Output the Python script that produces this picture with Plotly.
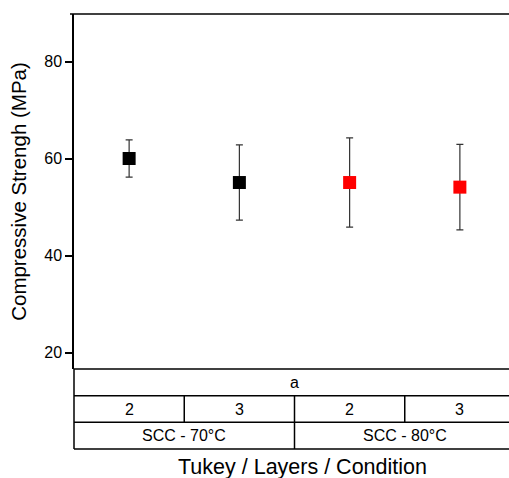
import plotly.graph_objects as go

layers = ["2", "3", "2", "3"]
conditions = ["SCC - 70°C", "SCC - 80°C"]
tukey = ["a"]
strength = [60.0, 55.05, 55.05, 54.1]
err = [3.85, 7.75, 9.2, 8.8]
colors = ["#000000", "#000000", "#ff0000", "#ff0000"]

W, H = 509, 478
ml, mr, mt, mb = 74, 0, 14, 29
plot_top, plot_bot, tbl_bot = 14, 369, 449
row_h = (tbl_bot - plot_bot) / 3
ncat = len(layers)
xpos = [i + 0.5 for i in range(ncat)]
xmax = ncat * (W - ml) / (515 - ml)
FAM = "Liberation Sans, Arial, sans-serif"

def py(p):  # pixel y -> paper y
    return (H - mb - p) / (H - mb - mt)

fig = go.Figure()
fig.add_trace(go.Scatter(
    x=xpos, y=strength, mode="markers",
    marker=dict(symbol="square", size=13, color=colors, line=dict(width=0)),
    error_y=dict(type="data", array=err, visible=True, color="#333333", thickness=1.2, width=3.5),
    showlegend=False, cliponaxis=False,
))

shapes = []
line = dict(color="black", width=1.5)
shapes.append(dict(type="line", xref="paper", yref="paper", x0=-4 / (W - ml), x1=1, y0=1, y1=1, line=line))
for k in range(4):
    yy = py(plot_bot + k * row_h)
    shapes.append(dict(type="line", xref="paper", yref="paper", x0=0, x1=1, y0=yy, y1=yy, line=line))
shapes.append(dict(type="line", xref="paper", yref="paper", x0=0, x1=0, y0=py(tbl_bot), y1=py(plot_bot), line=line))
for i in range(1, ncat):
    shapes.append(dict(type="line", xref="x", yref="paper", x0=i, x1=i,
                       y0=py(plot_bot + 2 * row_h), y1=py(plot_bot + row_h), line=line))
per = ncat // len(conditions)
for j in range(1, len(conditions)):
    shapes.append(dict(type="line", xref="x", yref="paper", x0=j * per, x1=j * per,
                       y0=py(tbl_bot), y1=py(plot_bot + 2 * row_h), line=line))

font = dict(family=FAM, size=16, color="black")
ann = []
ann.append(dict(x=ncat / 2, xref="x", y=py(plot_bot + 0.5 * row_h), yref="paper", text=tukey[0],
                showarrow=False, font=font, xanchor="center", yanchor="middle"))
for i, lab in enumerate(layers):
    ann.append(dict(x=xpos[i], xref="x", y=py(plot_bot + 1.5 * row_h), yref="paper", text=lab,
                    showarrow=False, font=font, xanchor="center", yanchor="middle"))
for j, lab in enumerate(conditions):
    ann.append(dict(x=j * per + per / 2, xref="x", y=py(plot_bot + 2.5 * row_h), yref="paper", text=lab,
                    showarrow=False, font=font, xanchor="center", yanchor="middle"))
ann.append(dict(x=(302 - ml) / (W - ml - mr), xref="paper", y=py(467), yref="paper",
                text="Tukey / Layers / Condition", showarrow=False,
                font=dict(family=FAM, size=21.5, color="black"),
                xanchor="center", yanchor="middle"))

fig.update_layout(
    width=W, height=H,
    margin=dict(l=ml, r=mr, t=mt, b=mb),
    paper_bgcolor="white", plot_bgcolor="white",
    shapes=shapes, annotations=ann,
    xaxis=dict(range=[0, xmax], showticklabels=False, showgrid=False, zeroline=False,
               ticks="", showline=False, fixedrange=True),
    yaxis=dict(domain=[py(plot_bot), 1], range=[16.6, 89.8], tickvals=[20, 40, 60, 80],
               ticks="outside", ticklen=7, tickwidth=1.5, tickcolor="black",
               showline=True, linecolor="black", linewidth=1.5,
               showgrid=False, zeroline=False,
               tickfont=dict(family=FAM, size=16, color="black"),
               title=dict(text="Compressive Strengh (MPa)", standoff=12,
                          font=dict(family=FAM, size=20.5, color="black"))),
)

fig.write_html("out.html", config={"displayModeBar": False},
               post_script="document.body.style.margin='0';document.body.style.overflow='hidden';")
